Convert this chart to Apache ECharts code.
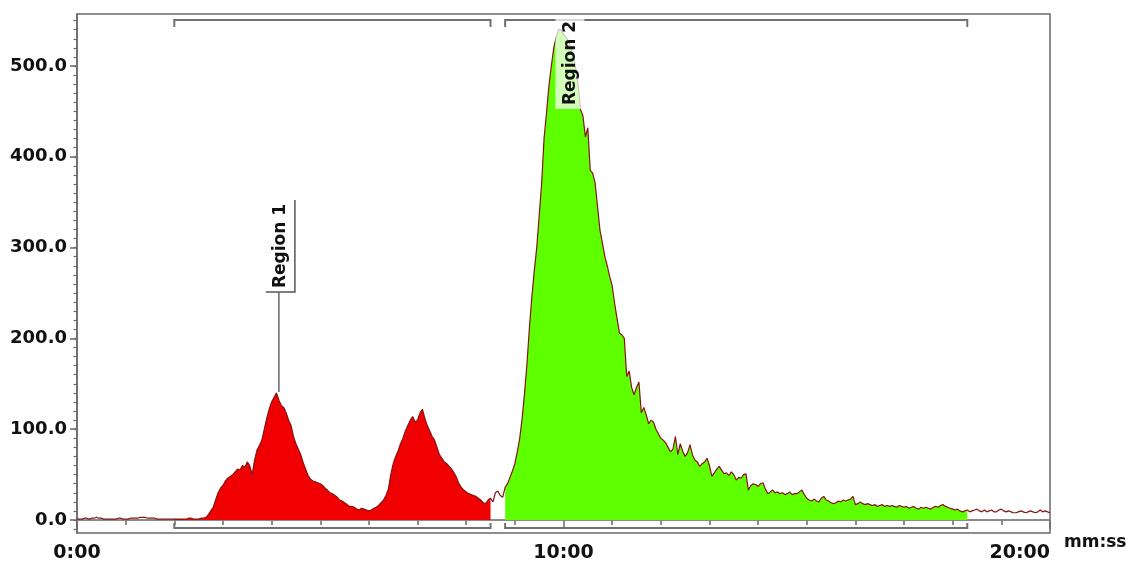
<!DOCTYPE html>
<html>
<head>
<meta charset="utf-8">
<script src="https://cdn.jsdelivr.net/npm/echarts@6/dist/echarts.min.js"></script>
<style>
html,body{margin:0;padding:0;background:#fff;}
#chart{width:1129px;height:566px;}
</style>
</head>
<body>
<div id="chart"></div>
<script>
// sampling of the trace (minutes)
const timeStart = 0;
const timeStep = 0.05;
// detector signal, one value per sample (0:00 .. 20:00)
const signal = [
  1,1,1,2,2,1,2,2,3,2, 2,1,1,1,1,1,1,2,2,1,
  1,1,2,2,2,2,3,3,3,2, 2,2,2,1,1,1,1,1,1,1,
  1,1,1,1,1,1,2,2,1,1, 1,2,2,3,6,10,14,22,30,35,
  38,43,46,48,50,53,56,55,60,58, 64,60,50,66,77,82,88,100,112,122,
  130,135,140,132,126,124,118,110,104,92, 84,78,72,63,56,49,45,43,42,41,
  40,38,35,33,30,29,27,25,22,21, 19,17,15,15,14,12,11,13,12,11,
  10,11,13,14,16,19,22,27,34,50, 62,70,76,84,90,98,104,110,114,108,
  110,118,122,112,104,98,92,88,80,72, 68,64,62,59,56,52,47,40,36,33,
  31,29,28,27,26,24,22,19,18,22, 24,20,30,32,27,25,36,40,47,54,
  62,75,90,112,140,173,212,246,275,300, 335,370,420,448,478,500,520,532,540,540,
  535,532,528,520,512,498,480,452,445,422, 432,385,382,371,345,319,305,290,280,268,
  258,239,222,206,204,200,158,164,146,138, 146,152,118,124,116,106,110,108,100,95,
  90,88,85,80,75,78,92,72,84,76, 70,74,83,72,66,64,59,62,64,68,
  60,48,52,56,59,55,51,52,49,53, 50,44,47,46,50,51,33,38,40,39,
  37,40,41,34,29,31,33,30,31,29, 30,28,29,31,28,29,29,31,33,28,
  24,22,21,23,21,20,24,26,22,21, 19,18,19,21,20,22,21,22,23,26,
  17,18,20,18,17,18,17,16,17,15, 16,17,15,16,15,16,15,14,16,15,
  14,15,13,14,15,13,12,14,13,14, 13,12,14,15,14,16,17,15,14,13,
  12,11,12,10,9,10,11,9,10,11, 12,10,9,11,9,10,11,9,9,11,
  12,10,9,10,9,8,8,9,10,9, 8,9,10,9,8,9,11,9,10,9,
  8
];
// integration regions (minutes)
const regionNames = ['Region 1', 'Region 2'];
const regionStart = [2.0, 8.8];
const regionEnd = [8.5, 18.3];
const regionColors = ['#F00000', '#5EFF00'];
const regionLabelTime = [4.15, 10.1];
const regionLabelValue = [141, 540];
// axes
const yTickValues = [0, 100, 200, 300, 400, 500];
const yMinorTickValues = [-10,0,10,20,30,40,50,60,70,80,90,100,110,120,130,140,150,160,170,180,190,200,210,220,230,240,250,260,270,280,290,300,310,320,330,340,350,360,370,380,390,400,410,420,430,440,450,460,470,480,490,500,510,520,530,540,550];
const yMin = -14.3, yMax = 557.3;
const xMin = 0, xMax = 20, xInterval = 10;
const xUnit = 'mm:ss';

const trace = signal.map((v, i) => [+(timeStart + i * timeStep).toFixed(2), v]);
function regionData(k) {
  return trace.filter(p => p[0] >= regionStart[k] - 1e-9 && p[0] <= regionEnd[k] + 1e-9);
}
function mmss(v) {
  const m = Math.floor(v + 1e-9);
  const s = Math.round((v - m) * 60);
  return m + ':' + String(s).padStart(2, '0');
}

const FONT = '"DejaVu Sans", Verdana, sans-serif';
const AXIS_COLOR = '#6a6a6a';

const chart = echarts.init(document.getElementById('chart'), null, {renderer: 'canvas'});

const fillSeries = regionNames.map((n, k) => ({
  type: 'line',
  name: n,
  data: regionData(k),
  showSymbol: false,
  symbol: 'none',
  lineStyle: {width: 0},
  areaStyle: {color: regionColors[k], opacity: 1, origin: 0},
  z: 2,
  silent: true,
  animation: false
}));

const option = {
  animation: false,
  backgroundColor: '#ffffff',
  grid: {
    left: 77, right: 79, top: 14, bottom: 33,
    outerBoundsMode: 'none',
    containLabel: false,
    show: true, borderColor: AXIS_COLOR, borderWidth: 1.5, backgroundColor: 'transparent'
  },
  xAxis: {
    type: 'value',
    min: xMin, max: xMax, interval: xInterval,
    name: xUnit,
    nameLocation: 'end',
    nameGap: 14,
    nameTextStyle: {fontFamily: FONT, fontWeight: 'bold', fontSize: 17, color: '#111', verticalAlign: 'top', padding: [14, 0, 0, 0]},
    axisLine: {show: true, lineStyle: {color: AXIS_COLOR, width: 1.5}},
    axisTick: {show: true, length: 9, lineStyle: {color: AXIS_COLOR, width: 1.5}},
    minorTick: {show: true, splitNumber: 10, length: 5, lineStyle: {color: AXIS_COLOR, width: 1.5}},
    splitLine: {show: false},
    minorSplitLine: {show: false},
    axisLabel: {
      fontFamily: FONT, fontWeight: 'bold', fontSize: 19, color: '#111', margin: 11,
      alignMaxLabel: 'right',
      formatter: mmss
    }
  },
  yAxis: [{
    type: 'value',
    min: yMin, max: yMax,
    axisLine: {show: true, lineStyle: {color: AXIS_COLOR, width: 1.5}},
    axisTick: {show: true, length: 7, customValues: yTickValues, lineStyle: {color: AXIS_COLOR, width: 1.5}},
    axisLabel: {
      customValues: yTickValues,
      fontFamily: FONT, fontWeight: 'bold', fontSize: 18, color: '#111', margin: 10,
      formatter: v => v.toFixed(1)
    },
    splitLine: {show: false}
  }, {
    type: 'value',
    min: yMin, max: yMax,
    position: 'left',
    axisLine: {show: false},
    axisTick: {show: true, length: 3.5, customValues: yMinorTickValues, lineStyle: {color: AXIS_COLOR, width: 1.2}},
    axisLabel: {show: false, customValues: yMinorTickValues},
    splitLine: {show: false}
  }],
  series: fillSeries.concat([
    {
      type: 'line',
      name: 'signal',
      data: trace,
      showSymbol: false,
      symbol: 'none',
      lineStyle: {color: '#861414', width: 1.2},
      z: 3,
      silent: true,
      markLine: {
        silent: true,
        symbol: 'none',
        label: {show: false},
        lineStyle: {color: '#8a8a8a', width: 1.5, type: 'solid'},
        data: [{yAxis: 0}],
        z: 1
      }
    },
    {
      type: 'custom',
      name: 'brackets',
      data: regionNames.map((n, k) => [regionStart[k], regionEnd[k]]),
      dimensions: ['start', 'end'],
      encode: {x: [0, 1]},
      clip: false,
      silent: true,
      z: 4,
      renderItem: function (params, api) {
        const cs = params.coordSys;
        const x1 = api.coord([api.value(0), 0])[0];
        const x2 = api.coord([api.value(1), 0])[0];
        const yt = cs.y + 6;
        const yb = cs.y + cs.height - 5;
        const st = {stroke: '#707070', lineWidth: 2, fill: null};
        return {
          type: 'group',
          children: [
            {type: 'polyline', shape: {points: [[x1, yt + 7], [x1, yt], [x2, yt], [x2, yt + 7]]}, style: st},
            {type: 'polyline', shape: {points: [[x1, yb - 5], [x1, yb], [x2, yb], [x2, yb - 5]]}, style: st}
          ]
        };
      }
    },
    {
      type: 'custom',
      name: 'labels',
      data: regionNames.map((n, k) => [regionLabelTime[k], regionLabelValue[k]]),
      encode: {x: 0, y: 1},
      clip: false,
      silent: true,
      z: 5,
      renderItem: function (params, api) {
        const cs = params.coordSys;
        const p = api.coord([api.value(0), api.value(1)]);
        const h = 92;
        let bottom = p[1] - 100;
        let top = bottom - h;
        let leader = true;
        if (top < cs.y + 3) {
          top = cs.y + 3;
          bottom = top + h;
          leader = false;
        }
        const left = p[0] - 13, right = p[0] + 16;
        const children = [
          {type: 'rect', shape: {x: left, y: top, width: right - left, height: bottom - top},
            style: {fill: 'rgba(255,255,255,0.72)'}},
          {type: 'text', x: p[0] + 2, y: (top + bottom) / 2, rotation: Math.PI / 2,
            style: {text: regionNames[params.dataIndex], fill: '#111',
              font: 'bold 17px ' + FONT, align: 'center', verticalAlign: 'middle'}}
        ];
        if (leader) {
          children.push({type: 'polyline', shape: {points: [[right, top], [right, bottom], [left, bottom]]},
            style: {stroke: '#555', lineWidth: 1.5, fill: null}});
          children.push({type: 'line', shape: {x1: p[0], y1: bottom, x2: p[0], y2: p[1]},
            style: {stroke: '#666', lineWidth: 1.5}});
        }
        return {type: 'group', children: children};
      }
    }
  ])
};
chart.setOption(option);
</script>
</body>
</html>
